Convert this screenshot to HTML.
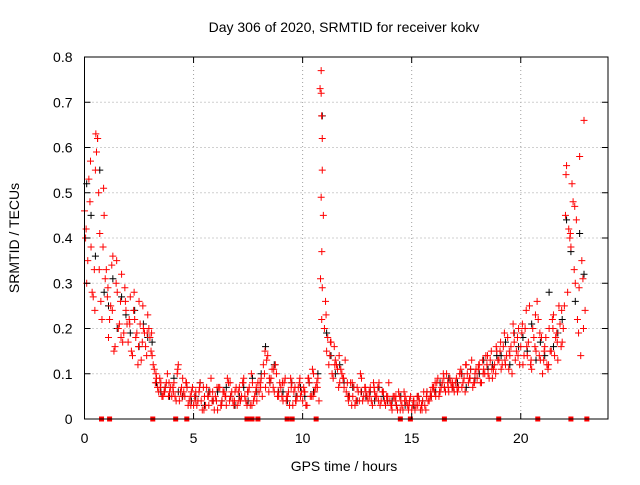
<!DOCTYPE html>
<html><head><meta charset="utf-8"><style>
body{margin:0;background:#fff}
svg text{font-family:"Liberation Sans",sans-serif;font-size:14px;fill:#000}
</style></head><body>
<svg id="c" width="640" height="480" xmlns="http://www.w3.org/2000/svg"></svg>
<script>
const xTicks=[0,5,10,15,20];
const yTicks=[0,0.1,0.2,0.3,0.4,0.5,0.6,0.7,0.8];
const yTickLabels=["0","0.1","0.2","0.3","0.4","0.5","0.6","0.7","0.8"];
const redA=[.46,.30,.53,.38,.27,.55,.62,.41,.22,.45,
.33,.18,.25,.36,.16,.28,.21,.32,.19,.24,
.17,.27,.14,.22,.19,.26,.13,.20,.16,.23,
.18,.14,.11,.09,.06,.08,.05,.07,.10,.06,
.05,.08,.04,.12,.06,.09,.05,.07,.04,.06,
.03,.06,.04,.08,.02,.05,.07,.03,.09,.04,
.05,.02,.07,.04,.06,.03,.08,.05,.04,.06,
.03,.07,.05,.09,.04,.06,.03,.08,.05,.04,
.06,.09,.12,.07,.14,.08,.11,.06,.10,.05,
.07,.04,.09,.05,.03,.08,.06,.04,.07,.05,
.04,.06,.03,.08,.05,.10,.07,.09,.73,.62,
.20,.15,.12,.17,.09,.13,.11,.08,.10,.07,
.06,.04,.08,.05,.03,.07,.04,.09,.05,.06,
.04,.07,.03,.06,.05,.08,.04,.06,.03,.05,
.04,.02,.05,.03,.06,.04,.02,.05,.03,.04,
.02,.04,.03,.05,.02,.04,.03,.06,.04,.05,
.07,.05,.09,.06,.08,.07,.10,.06,.08,.07,
.08,.06,.10,.07,.09,.12,.08,.11,.07,.10,
.09,.12,.08,.11,.14,.10,.13,.09,.12,.15,
.13,.11,.16,.12,.18,.14,.10,.17,.15,.20,
.16,.12,.20,.14,.25,.11,.18,.15,.22,.13,
.10,.16,.12,.20,.15,.23,.18,.13,.21,.17,
.25,.56,.42,.38,.48,.30,.22,.58,.35,.66];
const redB=[.40,.35,.48,.28,.33,.59,.50,.26,.38,.31,
.27,.22,.34,.15,.30,.20,.26,.17,.29,.21,
.22,.15,.24,.18,.12,.21,.17,.19,.14,.20,
.15,.12,.08,.07,.09,.05,.06,.08,.05,.07,
.07,.05,.10,.04,.07,.06,.08,.03,.05,.07,
.05,.03,.06,.04,.07,.03,.05,.06,.04,.02,
.04,.07,.03,.06,.05,.09,.04,.06,.03,.07,
.06,.04,.08,.05,.03,.07,.10,.04,.06,.08,
.08,.05,.10,.13,.06,.09,.07,.12,.05,.08,
.05,.08,.04,.06,.09,.03,.07,.05,.08,.06,
.07,.03,.09,.05,.11,.06,.08,.04,.49,.45,
.26,.18,.14,.10,.16,.12,.07,.11,.09,.13,
.08,.05,.03,.07,.04,.06,.10,.04,.07,.05,
.06,.04,.08,.05,.07,.03,.06,.04,.05,.08,
.03,.05,.04,.02,.05,.03,.06,.04,.02,.05,
.03,.02,.05,.04,.03,.06,.02,.04,.05,.07,
.06,.08,.05,.07,.10,.06,.08,.09,.07,.06,
.09,.07,.11,.08,.06,.10,.09,.13,.08,.11,
.11,.08,.13,.10,.12,.09,.15,.11,.10,.13,
.15,.12,.19,.14,.11,.16,.21,.13,.18,.12,
.19,.14,.24,.17,.12,.20,.16,.26,.14,.18,
.13,.18,.11,.15,.22,.14,.19,.25,.16,.20,
.45,.28,.40,.52,.33,.44,.19,.14,.31,.24];
const redC=[.42,.57,.24,.33,.51,.29,.24,.35,.18,.26,.21,.28,.16,.25,.19,.19,.10,.07,.06,.08,
.06,.11,.05,.08,.03,.04,.07,.02,.05,.06,.07,.03,.05,.08,.04,.04,.08,.06,.03,.07,
.07,.15,.09,.11,.06,.08,.05,.07,.04,.09,.06,.09,.05,.07,.22,.23,.17,.12,.14,.09,
.05,.08,.04,.06,.07,.05,.07,.04,.06,.04,.03,.05,.02,.04,.03,.04,.03,.02,.05,.06,
.08,.06,.09,.07,.08,.07,.10,.12,.09,.08,.12,.10,.14,.11,.16,.17,.13,.15,.19,.14,
.21,.16,.13,.23,.19,.15,.12,.20,.17,.24,.54,.41,.47,.29,.20];
const black=[.52,.45,.36,.55,.28,.25,.31,.20,.27,.23,.19,.24,.16,.21,.18,.17,.08,.06,.07,.05,
.09,.06,.05,.07,.04,.05,.08,.03,.06,.04,.06,.04,.07,.05,.03,.05,.07,.04,.09,.06,
.10,.16,.08,.12,.06,.06,.04,.08,.05,.07,.05,.08,.06,.10,.67,.19,.14,.10,.12,.08,
.05,.07,.04,.06,.05,.06,.04,.07,.05,.04,.04,.03,.05,.03,.04,.03,.05,.04,.06,.05,
.06,.08,.07,.09,.07,.08,.10,.07,.11,.09,.10,.13,.11,.12,.14,.14,.17,.12,.19,.16,
.18,.15,.21,.13,.17,.14,.28,.16,.19,.22,.44,.37,.26,.41,.32];
const spikeHours=[10.85,10.85,10.87,10.9,10.88,10.82,10.9,0.52,0.6];
const spikeValues=[.77,.72,.67,.55,.37,.31,.29,.63,.62];
const gapHours=[0.78,1.15,3.13,4.18,4.69,7.45,7.68,7.95,9.29,9.52,10.62,14.48,14.94,16.5,18.99,20.78,22.3,23.03];

const X0=84.5,X1=608,Y0=419,Y1=57;
const xs=h=>X0+(h/24)*(X1-X0);
const ys=v=>Y0-(v/0.8)*(Y0-Y1);
const svg=document.getElementById('c');
const NS='http://www.w3.org/2000/svg';
function mk(tag,attrs,parent){const e=document.createElementNS(NS,tag);for(const k in attrs)e.setAttribute(k,attrs[k]);(parent||svg).appendChild(e);return e;}

const grid=mk('g',{});


xTicks.forEach(t=>{if(t>0)mk('line',{x1:xs(t),x2:xs(t),y1:Y0,y2:Y1,stroke:'#a0a0a0','stroke-dasharray':'1,3'},grid);});
yTicks.forEach(t=>{if(t>0&&t<0.8)mk('line',{x1:X0,x2:X1,y1:ys(t),y2:ys(t),stroke:'#a0a0a0','stroke-dasharray':'1,3'},grid);});

function plus(h,v,col,g){const x=xs(h),y=ys(v);mk('path',{d:`M${x-3.5},${y}h7M${x},${y-3.5}v7`,stroke:col,'stroke-width':1,fill:'none'},g);}
const gb=mk('g',{});


black.forEach((v,i)=>plus(0.1+i*0.2,v,'#000',gb));
const gr=mk('g',{});


redA.forEach((v,i)=>plus(i*0.1,v,'#f00',gr));
redB.forEach((v,i)=>plus(0.05+i*0.1,v,'#f00',gr));
redC.forEach((v,i)=>plus(0.075+i*0.2,v,'#f00',gr));
spikeHours.forEach((h,i)=>plus(h,spikeValues[i],'#f00',gr));
const gg=mk('g',{});


gapHours.forEach(h=>mk('rect',{x:xs(h)-2.5,y:Y0-2.5,width:5,height:5,fill:'#f00'},gg));

const ax=mk('g',{});


mk('rect',{x:X0,y:Y1,width:X1-X0,height:Y0-Y1,fill:'none',stroke:'#000','stroke-width':1},ax);
xTicks.forEach(t=>{mk('line',{x1:xs(t),x2:xs(t),y1:Y0,y2:Y0-6,stroke:'#000'},ax);mk('line',{x1:xs(t),x2:xs(t),y1:Y1,y2:Y1+6,stroke:'#000'},ax);
 const tx=mk('text',{x:xs(t),y:Y0+24,'text-anchor':'middle'},ax);tx.textContent=t;});
yTicks.forEach((t,i)=>{mk('line',{x1:X0,x2:X0+6,y1:ys(t),y2:ys(t),stroke:'#000'},ax);mk('line',{x1:X1,x2:X1-6,y1:ys(t),y2:ys(t),stroke:'#000'},ax);
 const tx=mk('text',{x:X0-12,y:ys(t)+5,'text-anchor':'end'},ax);tx.textContent=yTickLabels[i];});
const title=mk('text',{x:344,y:32,'text-anchor':'middle'});


title.textContent='Day 306 of 2020, SRMTID for receiver kokv';
const xt=mk('text',{x:344,y:471,'text-anchor':'middle'});


xt.textContent='GPS time / hours';
const yt=mk('text',{x:0,y:0,'text-anchor':'middle',transform:'translate(19,238) rotate(-90)'});


yt.textContent='SRMTID / TECUs';
</script>
</body></html>
